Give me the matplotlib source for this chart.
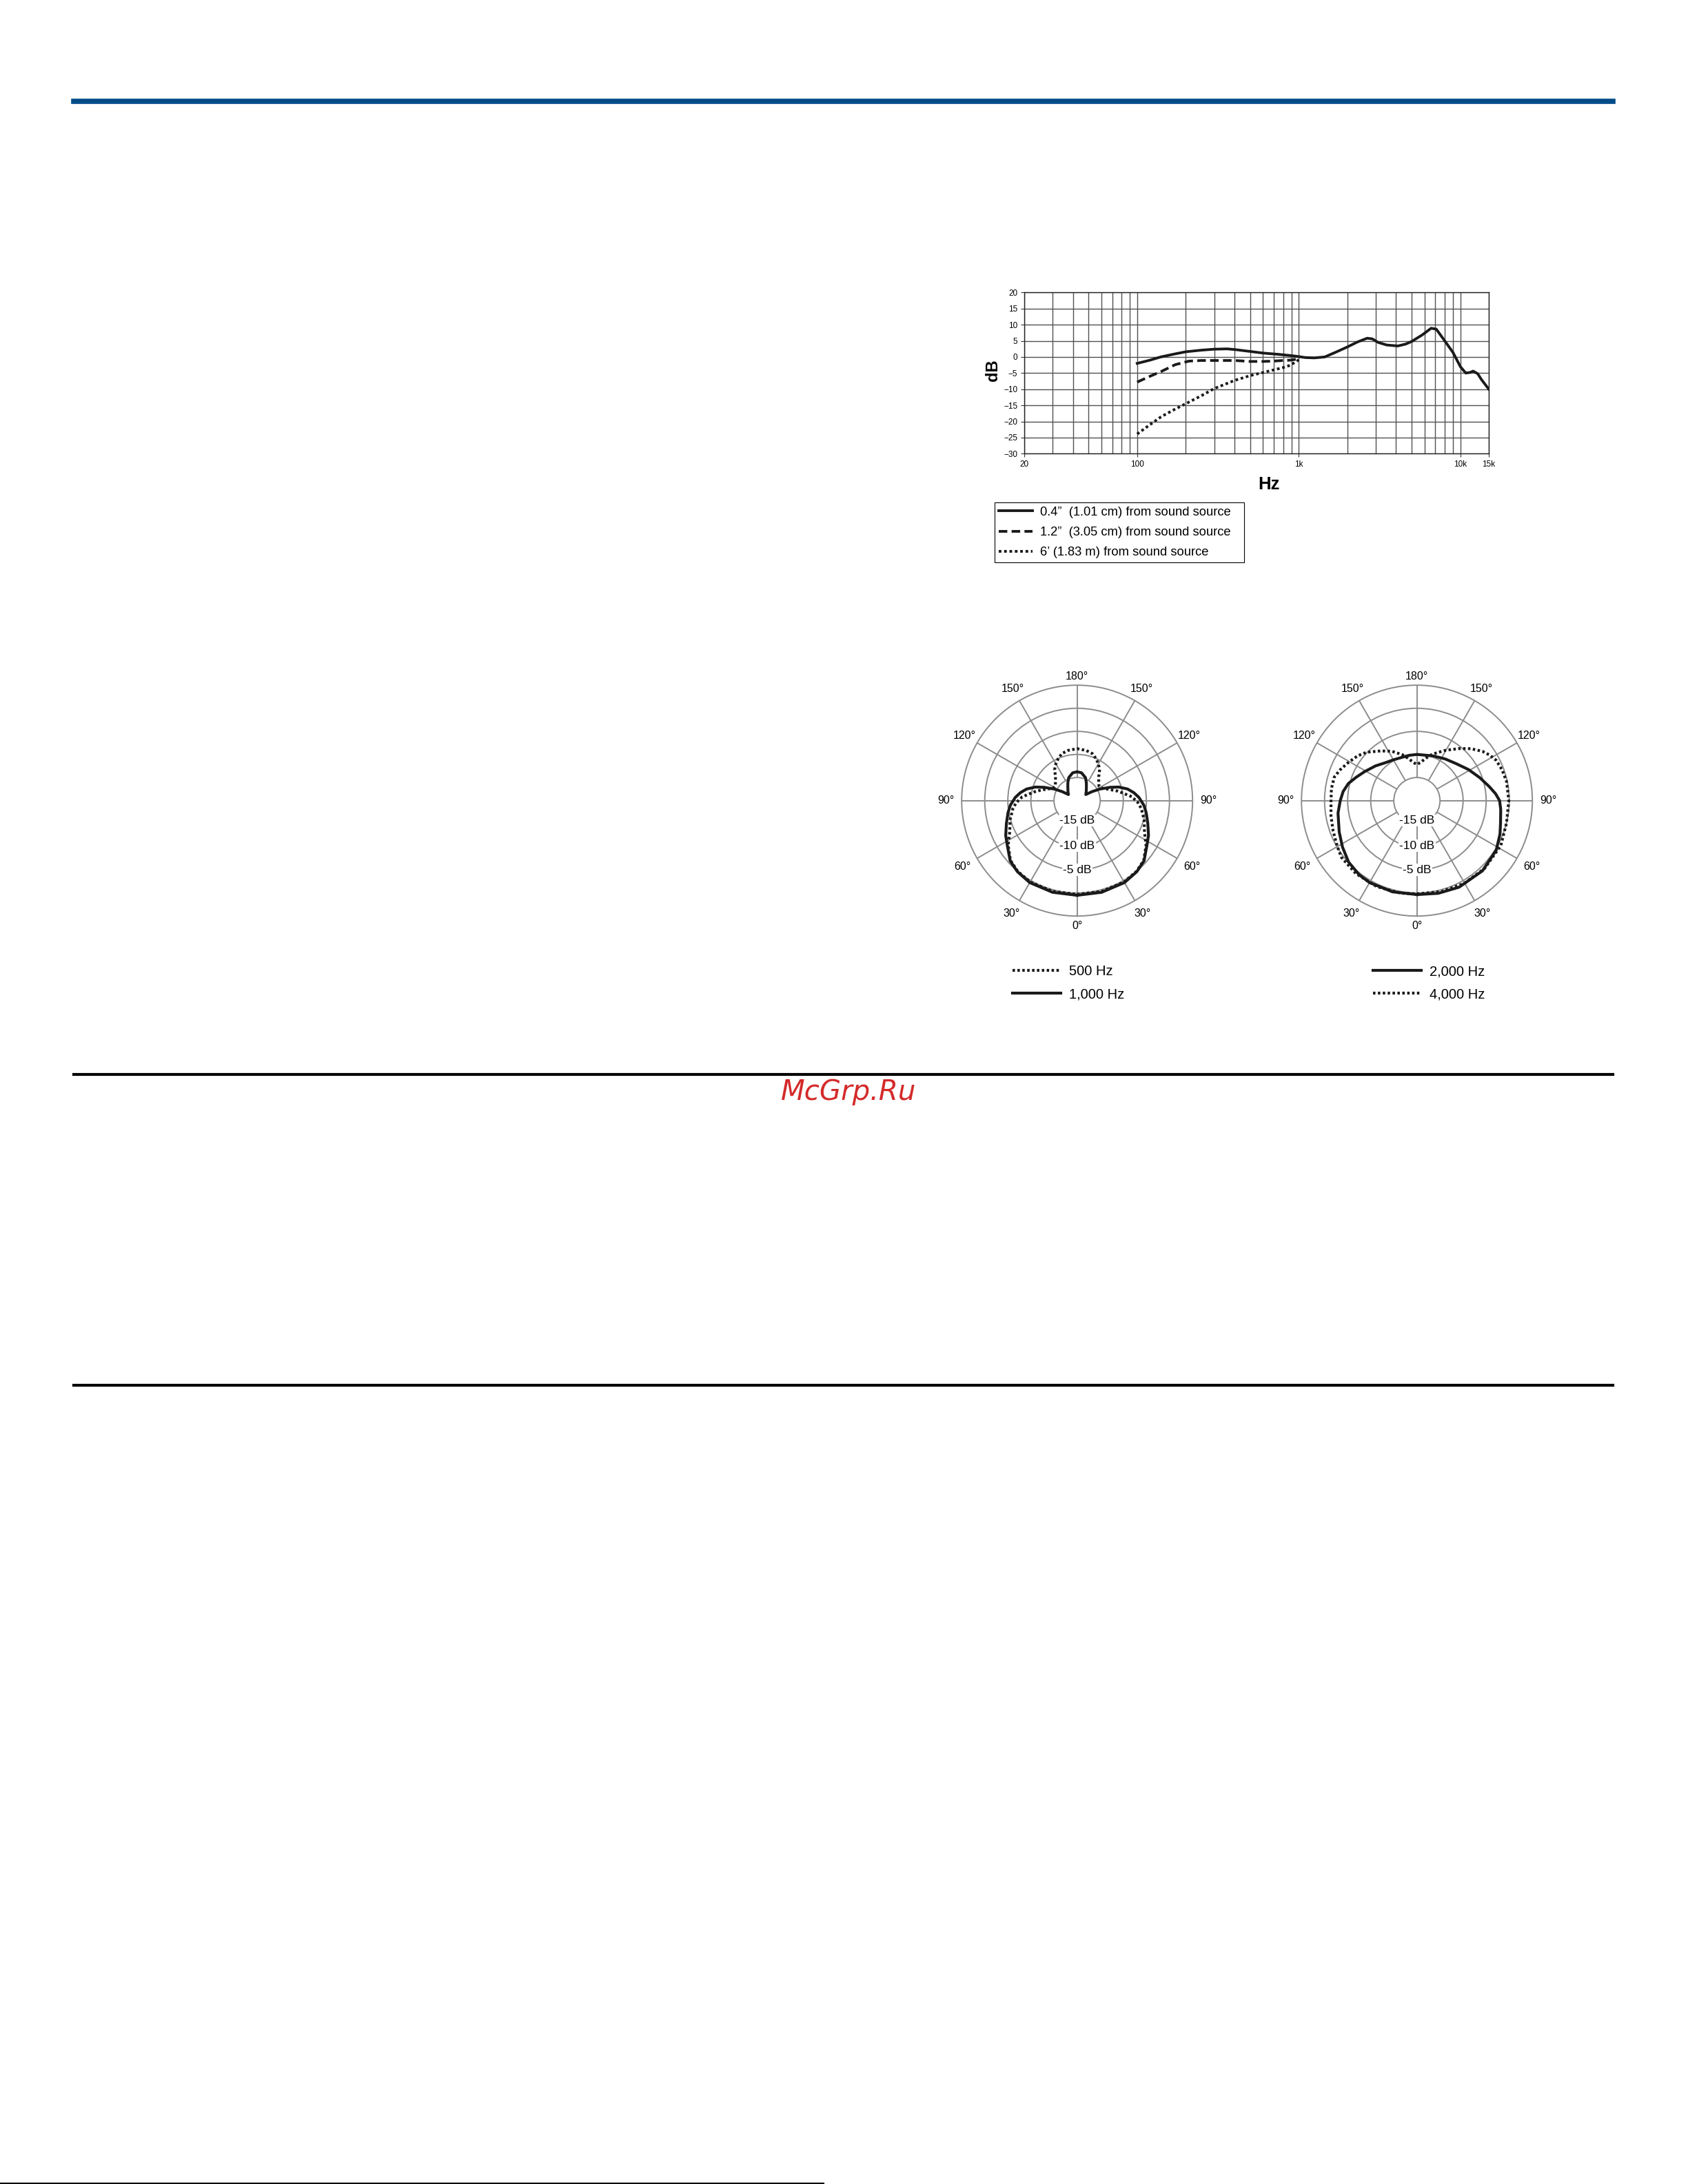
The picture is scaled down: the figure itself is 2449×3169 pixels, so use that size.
import numpy as np
import matplotlib
matplotlib.use('Agg')
import matplotlib.pyplot as plt
from matplotlib.lines import Line2D

plt.rcParams['font.family'] = ['Liberation Sans', 'DejaVu Sans']

W, H, DPI = 2449, 3169, 100

# Frequency response (dB vs Hz)
freq_04 = [100, 120, 140, 170, 200, 250, 300, 360, 400, 500, 600, 750, 900, 1000, 1100, 1250,
           1450, 1700, 2000, 2300, 2650, 2850, 3100, 3500, 4100, 4600, 5000, 5800, 6600, 7100,
           8000, 9000, 10000, 10800, 11500, 12000, 12800, 13500, 15000]
db_04 = [-2.0, -1.0, 0.0, 0.9, 1.6, 2.1, 2.4, 2.5, 2.3, 1.7, 1.2, 0.8, 0.4, 0.1, -0.2, -0.3,
         0.0, 1.5, 3.1, 4.6, 5.8, 5.6, 4.5, 3.7, 3.4, 4.0, 4.8, 6.8, 8.9, 8.6,
         5.0, 1.4, -3.0, -5.0, -4.8, -4.4, -5.2, -7.0, -10.0]
freq_12 = [100, 120, 141, 172, 209, 250, 300, 400, 500, 600, 690, 800, 885, 1000]
db_12 = [-7.8, -6.0, -4.5, -2.4, -1.3, -1.1, -1.1, -1.1, -1.4, -1.4, -1.3, -1.1, -1.0, -0.6]
freq_6ft = [100, 120, 141, 170, 200, 250, 300, 400, 500, 690, 800, 885, 1000]
db_6ft = [-23.9, -21.0, -18.5, -16.3, -14.5, -12.0, -9.8, -7.3, -5.8, -4.1, -3.3, -2.6, -0.9]
resp_labels = ['0.4\u201d  (1.01 cm) from sound source',
               '1.2\u201d  (3.05 cm) from sound source',
               '6\u2019 (1.83 m) from sound source']
x_ticks = [20, 100, 1000, 10000, 15000]
x_tick_labels = ['20', '100', '1k', '10k', '15k']
x_minor = [30, 40, 50, 60, 70, 80, 90, 200, 300, 400, 500, 600, 700, 800, 900,
           2000, 3000, 4000, 5000, 6000, 7000, 8000, 9000]
y_ticks = [-30, -25, -20, -15, -10, -5, 0, 5, 10, 15, 20]

# Polar patterns (angle in degrees from 0° at bottom, dB)
# left chart is symmetric: one half given, mirrored
ang_500 = [0, 15, 30, 40, 48, 57, 65, 74, 83, 88, 94, 103, 110, 114, 119, 124, 131, 138,
           144, 150, 156, 162, 170, 180]
db_500 = [0.3, 0.35, 0.35, 0.0, -0.6, -2.2, -3.9, -4.9, -6.0, -6.8, -8.1, -10.9, -12.8, -13.6,
          -14.2, -14.3, -13.8, -13.0, -11.7, -10.8, -10.0, -9.3, -8.95, -8.75]
ang_1000 = [0, 15, 30, 40, 48, 57, 64, 72, 80, 86, 93, 98, 103, 108, 112, 117, 121, 125,
            135, 146, 153, 160, 171, 180]
db_1000 = [0.5, 0.55, 0.5, 0.1, -0.5, -2.0, -2.8, -3.9, -4.8, -5.5, -6.6, -7.6, -8.8, -10.5,
           -12.3, -14.5, -16.2, -17.7, -17.2, -16.4, -15.6, -14.7, -13.9, -13.75]
# right chart: full turn, positive angles to the right
ang_2000 = [0, 13, 26, 43, 58, 68, 75, 84, 90, 95, 101, 110, 121, 133, 146, 160, 170, 180,
            190, 197, 210, 220, 230, 241, 249, 256, 263, 270, 279, 292, 302, 312, 322, 330,
            345, 360]
db_2000 = [0.35, 0.6, 0.85, 0.8, 0.25, -0.6, -1.25, -1.75, -2.1, -2.9, -4.05, -5.5, -6.95,
           -8.3, -9.1, -9.7, -10.0, -10.0, -10.05, -10.1, -9.8, -9.3, -8.3, -7.05, -5.9, -4.7,
           -3.9, -3.4, -2.7, -1.85, -1.0, -0.1, 0.35, 0.5, 0.45, 0.35]
ang_4000 = [0, 15, 30, 45, 62, 76, 90, 102, 110, 117, 122, 127, 134, 141, 150, 157, 162, 168,
            174, 180, 186, 192, 198, 207, 216, 226, 233, 241, 248, 254, 262, 270, 280, 290,
            300, 307, 320, 335, 350, 360]
db_4000 = [0.2, 0.4, 0.65, 0.75, 0.6, 0.0, -0.1, -0.15, -0.4, -0.75, -1.4, -2.25, -3.8, -5.5,
           -7.4, -8.7, -9.5, -10.6, -11.6, -12.2, -11.6, -10.6, -9.5, -8.0, -6.7, -4.9, -3.9,
           -3.0, -2.1, -1.4, -1.3, -1.4, -1.1, -0.7, -0.1, 0.45, 0.6, 0.55, 0.35, 0.2]
theta_ticks = [0, 30, 60, 90, 120, 150, 180, 210, 240, 270, 300, 330]
theta_labels = ['0°', '30°', '60°', '90°', '120°', '150°', '180°',
                '150°', '120°', '90°', '60°', '30°']
ring_labels = {-15.7: '-15 dB', -10.2: '-10 dB', -5.0: '-5 dB'}

# radius (in dB units) where each angle label sits
label_r = {0: 7.2, 30: 8.3, 60: 8.7, 90: 8.4, 120: 8.1, 150: 8.0, 180: 6.9}


def fx(px):
    return px / W


def fy(py):
    return 1 - py / H


fig = plt.figure(figsize=(W / DPI, H / DPI), dpi=DPI)
fig.patch.set_facecolor('white')

# page rules
fig.add_artist(Line2D([fx(107), fx(2340)], [fy(146.5)] * 2, color='#034c89', lw=5.5))
fig.add_artist(Line2D([fx(107), fx(2340)], [fy(1559)] * 2, color='black', lw=3))
fig.add_artist(Line2D([fx(107), fx(2340)], [fy(2010)] * 2, color='black', lw=3))
fig.add_artist(Line2D([0, fx(1195)], [fy(3167.5)] * 2, color='black', lw=1.5))
fig.text(fx(1231), fy(1585), 'McGrp.Ru', color='#d42a2a', fontsize=29, style='italic',
         family='DejaVu Sans', ha='center', va='center')

# ---- frequency response
x0, x1, y0, y1 = 1486, 2160, 424.3, 658.3
ax = fig.add_axes([fx(x0), fy(y1), (x1 - x0) / W, (y1 - y0) / H])
ax.set_xscale('log')
ax.set_xlim(20, 15000)
ax.set_ylim(-30, 20)
ax.set_xticks(x_ticks, x_tick_labels)
ax.set_xticks(x_minor, minor=True)
ax.set_yticks(y_ticks)
ax.tick_params(which='minor', length=0)
ax.tick_params(which='major', length=3.6, width=0.8, pad=3.5, labelsize=8.5, color='#333')
ax.grid(which='both', color='#505050', lw=1.0)
for sp in ax.spines.values():
    sp.set_color('#222')
    sp.set_linewidth(1.0)
ax.plot(freq_04, db_04, color='#1a1a1a', lw=2.8, label=resp_labels[0])
ax.plot(freq_12, db_12, color='#1a1a1a', lw=2.8, ls=(0, (3.2, 1.6)), label=resp_labels[1])
ax.plot(freq_6ft, db_6ft, color='#1a1a1a', lw=2.8, ls=(0, (1, 1)), label=resp_labels[2])
ax.set_xlabel('Hz', fontsize=18.5, fontweight='bold')
ax.set_ylabel('dB', fontsize=17, fontweight='bold')
ax.xaxis.set_label_coords((1841 - x0) / (x1 - x0), (y1 - 691) / (y1 - y0))
ax.yaxis.set_label_coords((1452 - x0) / (x1 - x0), (y1 - 537.5) / (y1 - y0))
leg = ax.legend(loc='upper left',
                bbox_to_anchor=(fx(1443), fy(817), (1805 - 1443) / W, (817 - 729) / H),
                bbox_transform=fig.transFigure, mode='expand', fontsize=13.2, fancybox=False,
                edgecolor='black', framealpha=1, borderpad=0.3, handlelength=2.7,
                handletextpad=0.6, labelspacing=0.68, borderaxespad=0)
leg.get_frame().set_linewidth(0.8)

# ---- polar patterns
R = 167.5


def polar_at(cx, cy):
    pax = fig.add_axes([fx(cx - R), fy(cy + R), 2 * R / W, 2 * R / H], projection='polar')
    pax.set_theta_zero_location('S')
    pax.set_rorigin(-20)
    pax.set_ylim(-15, 5)
    pax.set_yticks([-10, -5, 0])
    pax.set_yticklabels([])
    pax.set_thetagrids(theta_ticks, [''] * len(theta_ticks))
    pax.grid(color='#8c8c8c', lw=1.4)
    for sp in pax.spines.values():
        sp.set_color('#8c8c8c')
        sp.set_linewidth(1.4)
    for a, t in zip(theta_ticks, theta_labels):
        rl = label_r[a if a <= 180 else 360 - a]
        pax.text(np.radians(a), rl, t, ha='center', va='center', fontsize=11.5, clip_on=False)
    for r, t in ring_labels.items():
        pax.text(0, r, t, ha='center', va='center', fontsize=12.5, clip_on=False,
                 bbox=dict(fc='white', ec='none', pad=1.0), zorder=3)
    return pax


def mirror(ang, vals):
    a = np.array(ang, dtype=float)
    v = np.array(vals, dtype=float)
    return np.radians(np.concatenate([a, 360 - a[::-1]])), np.concatenate([v, v[::-1]])


leg_kw = dict(bbox_transform=fig.transFigure, frameon=False, fontsize=14.5, handlelength=3.5,
              handletextpad=0.55, labelspacing=0.72, borderpad=0, borderaxespad=0)

pl = polar_at(1562.7, 1161.7)
t, r = mirror(ang_500, db_500)
pl.plot(t, r, color='#1a1a1a', lw=3.0, ls=(0, (0.85, 0.85)), label='500 Hz', clip_on=False, zorder=4)
t, r = mirror(ang_1000, db_1000)
pl.plot(t, r, color='#1a1a1a', lw=3.0, label='1,000 Hz', clip_on=False, zorder=4)
pl.legend(loc='upper left', bbox_to_anchor=(fx(1469), fy(1400)), **leg_kw)

pr = polar_at(2055.7, 1161.7)
pr.plot(np.radians(ang_2000), db_2000, color='#1a1a1a', lw=3.0, label='2,000 Hz',
        clip_on=False, zorder=4)
pr.plot(np.radians(ang_4000), db_4000, color='#1a1a1a', lw=3.0, ls=(0, (0.85, 0.85)),
        label='4,000 Hz', clip_on=False, zorder=4)
pr.legend(loc='upper left', bbox_to_anchor=(fx(1992), fy(1400)), **leg_kw)

fig.savefig('out.png', dpi=DPI)
